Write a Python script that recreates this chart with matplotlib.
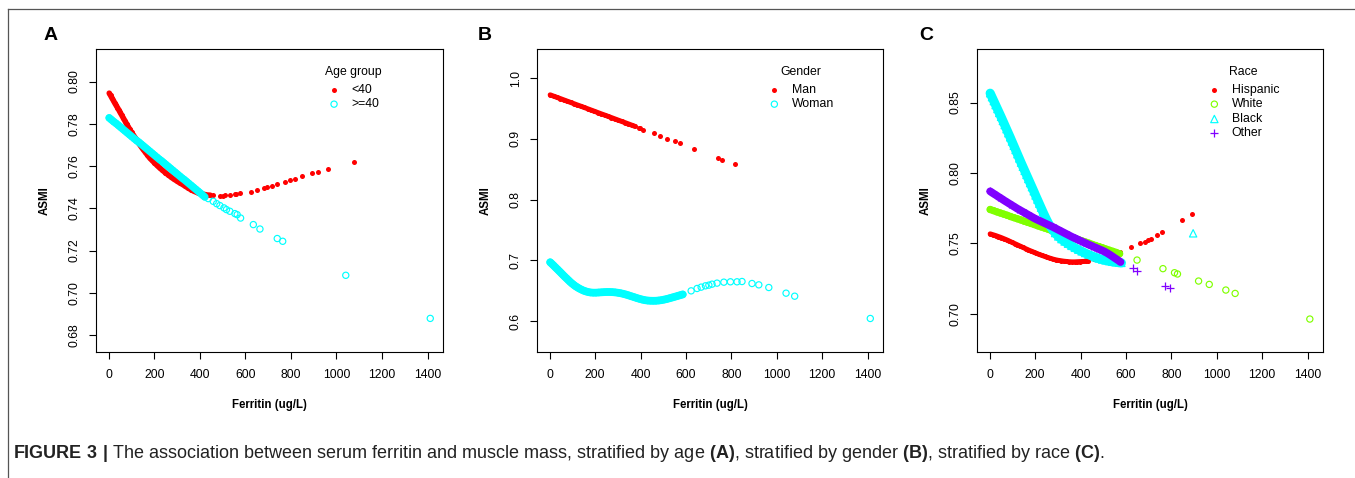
import matplotlib
matplotlib.use("Agg")
import matplotlib.pyplot as plt
from matplotlib.lines import Line2D
from matplotlib.ticker import FormatStrFormatter

plt.rcParams["font.family"] = ["Liberation Sans", "DejaVu Sans"]
plt.rcParams["mathtext.fontset"] = "custom"
plt.rcParams["mathtext.rm"] = "Liberation Sans"
plt.rcParams["mathtext.bf"] = "Liberation Sans:bold"

# ---- panel A: age group (dense run of fitted values, then the sparse tail) ----
lt40_dense_x = [2, 8, 14, 20, 26, 32, 38, 44, 50, 57, 64, 71, 78, 85, 92, 100, 108, 116, 124,
                132, 140, 150, 160, 170, 180, 190, 200, 212, 224, 236, 248, 260, 272, 285, 298,
                311, 324, 337, 350, 363, 376, 390, 404, 418, 432, 446]
lt40_dense_y = [0.7945, 0.7934, 0.7922, 0.7911, 0.7899, 0.7888, 0.7877, 0.7866, 0.7854, 0.7841,
                0.7827, 0.7814, 0.7800, 0.7787, 0.7774, 0.7760, 0.7747, 0.7734, 0.7721, 0.7708,
                0.7695, 0.7680, 0.7666, 0.7652, 0.7638, 0.7627, 0.7616, 0.7603, 0.7591, 0.7580,
                0.7569, 0.7559, 0.7549, 0.7539, 0.7530, 0.7521, 0.7513, 0.7504, 0.7495, 0.7487,
                0.7480, 0.7474, 0.7469, 0.7466, 0.7463, 0.7462]
lt40_sparse_x = [460, 489, 503, 511, 532, 555, 561, 576, 623, 649, 682, 693, 715, 737, 774, 796,
                 818, 847, 894, 921, 965, 1079]
lt40_sparse_y = [0.7461, 0.7460, 0.7460, 0.7461, 0.7463, 0.7466, 0.7468, 0.7471, 0.7479, 0.7487,
                 0.7494, 0.7499, 0.7507, 0.7515, 0.7526, 0.7532, 0.7539, 0.7551, 0.7565, 0.7573,
                 0.7587, 0.7619]
ge40_dense_x = [2, 12, 22, 32, 42, 52, 62, 72, 82, 92, 102, 112, 122, 132, 142, 152, 162, 172,
                182, 192, 202, 212, 222, 232, 242, 252, 262, 272, 282, 292, 302, 312, 322, 332,
                342, 352, 362, 372, 382, 392, 402, 412, 422]
ge40_dense_y = [0.7828, 0.7819, 0.7810, 0.7802, 0.7793, 0.7784, 0.7775, 0.7766, 0.7757, 0.7748,
                0.7739, 0.7730, 0.7721, 0.7713, 0.7704, 0.7695, 0.7686, 0.7677, 0.7668, 0.7659,
                0.7650, 0.7641, 0.7632, 0.7624, 0.7615, 0.7606, 0.7597, 0.7588, 0.7579, 0.7570,
                0.7561, 0.7552, 0.7543, 0.7535, 0.7526, 0.7517, 0.7508, 0.7499, 0.7490, 0.7481,
                0.7472, 0.7463, 0.7454]
ge40_sparse_x = [437, 459, 474, 488, 506, 517, 532, 554, 564, 579, 635, 664, 740, 764, 1041, 1412]
ge40_sparse_y = [0.7446, 0.7433, 0.7422, 0.7413, 0.7402, 0.7394, 0.7386, 0.7375, 0.7370, 0.7354,
                 0.7323, 0.7302, 0.7257, 0.7244, 0.7083, 0.6879]

# ---- panel B: gender ----
man_dense_x = [2, 17, 32, 47, 62, 77, 92, 107, 122, 137, 152, 167, 182, 197, 212, 227, 242, 257,
               272, 287, 302, 317, 332, 347, 362, 374]
man_dense_y = [0.9725, 0.9704, 0.9683, 0.9663, 0.9642, 0.9621, 0.9600, 0.9579, 0.9558, 0.9538,
               0.9517, 0.9496, 0.9475, 0.9454, 0.9433, 0.9412, 0.9392, 0.9371, 0.9350, 0.9329,
               0.9308, 0.9287, 0.9267, 0.9246, 0.9225, 0.9208]
man_sparse_x = [393, 398, 412, 459, 486, 518, 553, 573, 635, 741, 760, 816]
man_sparse_y = [0.9180, 0.9178, 0.9150, 0.9093, 0.9053, 0.9003, 0.8957, 0.8929, 0.8836, 0.8690,
                0.8657, 0.8580]
woman_dense_x = [2, 10, 18, 26, 34, 42, 50, 58, 66, 74, 82, 90, 98, 106, 114, 122, 130, 140, 150,
                 160, 170, 180, 192, 204, 216, 228, 240, 252, 264, 276, 288, 300, 312, 324, 336,
                 348, 360, 372, 384, 396, 408, 420, 432, 444, 456, 468, 480, 492, 504, 516, 528,
                 540, 552, 564, 576, 586]
woman_dense_y = [0.6968, 0.6940, 0.6911, 0.6881, 0.6852, 0.6822, 0.6792, 0.6761, 0.6731, 0.6703,
                 0.6674, 0.6645, 0.6619, 0.6595, 0.6573, 0.6554, 0.6536, 0.6517, 0.6500, 0.6487,
                 0.6477, 0.6470, 0.6467, 0.6467, 0.6470, 0.6473, 0.6476, 0.6478, 0.6478, 0.6476,
                 0.6472, 0.6466, 0.6458, 0.6448, 0.6436, 0.6422, 0.6407, 0.6393, 0.6378, 0.6365,
                 0.6353, 0.6343, 0.6337, 0.6334, 0.6333, 0.6334, 0.6338, 0.6344, 0.6353, 0.6363,
                 0.6375, 0.6388, 0.6401, 0.6414, 0.6427, 0.6438]
woman_sparse_x = [623, 649, 667, 686, 701, 715, 737, 767, 796, 825, 847, 891, 921, 965, 1041,
                  1079, 1412]
woman_sparse_y = [0.6497, 0.6536, 0.6558, 0.6580, 0.6591, 0.6607, 0.6624, 0.6640, 0.6646, 0.6646,
                  0.6651, 0.6618, 0.6596, 0.6552, 0.6459, 0.6409, 0.6042]

# ---- panel C: race ----
hisp_dense_x = [2, 14, 26, 38, 50, 62, 74, 86, 98, 110, 122, 134, 146, 158, 170, 182, 194, 206,
                218, 230, 242, 254, 266, 278, 290, 302, 314, 326, 338, 350, 362, 374, 386, 398,
                410, 422, 434]
hisp_dense_y = [0.7567, 0.7561, 0.7555, 0.7548, 0.7541, 0.7533, 0.7525, 0.7516, 0.7507, 0.7498,
                0.7489, 0.7480, 0.7471, 0.7462, 0.7453, 0.7445, 0.7437, 0.7429, 0.7421, 0.7414,
                0.7407, 0.7400, 0.7394, 0.7388, 0.7383, 0.7379, 0.7376, 0.7373, 0.7371, 0.7369,
                0.7368, 0.7368, 0.7369, 0.7370, 0.7371, 0.7372, 0.7374]
hisp_sparse_x = [460, 495, 517, 539, 573, 622, 663, 685, 696, 712, 737, 759, 849, 893]
hisp_sparse_y = [0.7386, 0.7401, 0.7410, 0.7418, 0.7436, 0.7471, 0.7500, 0.7512, 0.7524, 0.7533,
                 0.7559, 0.7583, 0.7666, 0.7706]
white_dense_x = [2, 17, 32, 47, 62, 77, 92, 107, 122, 137, 152, 167, 182, 197, 212, 227, 242,
                 257, 272, 287, 302, 317, 332, 347, 362, 377, 392, 407, 422, 437, 452, 467, 482,
                 497, 512, 527, 542, 557, 572]
white_dense_y = [0.7740, 0.7732, 0.7723, 0.7715, 0.7707, 0.7699, 0.7690, 0.7682, 0.7674, 0.7666,
                 0.7657, 0.7649, 0.7641, 0.7633, 0.7624, 0.7616, 0.7608, 0.7600, 0.7591, 0.7583,
                 0.7575, 0.7567, 0.7558, 0.7550, 0.7542, 0.7534, 0.7525, 0.7517, 0.7509, 0.7501,
                 0.7492, 0.7484, 0.7476, 0.7468, 0.7459, 0.7451, 0.7443, 0.7435, 0.7426]
white_sparse_x = [649, 763, 814, 827, 920, 967, 1040, 1081, 1410]
white_sparse_y = [0.7381, 0.7320, 0.7291, 0.7282, 0.7232, 0.7208, 0.7168, 0.7144, 0.6962]
black_dense_x = [2, 10, 18, 26, 34, 42, 50, 58, 66, 74, 82, 90, 98, 106, 114, 122, 130, 138, 146,
                 154, 162, 170, 178, 186, 194, 202, 210, 218, 226, 234, 242, 250, 258, 266, 274,
                 288, 302, 316, 330, 345, 360, 375, 390, 405, 420, 435, 450, 465, 480, 495, 510,
                 525, 540, 555, 570, 580]
black_dense_y = [0.8566, 0.8538, 0.8510, 0.8482, 0.8454, 0.8426, 0.8398, 0.8369, 0.8340, 0.8311,
                 0.8282, 0.8253, 0.8223, 0.8193, 0.8163, 0.8133, 0.8103, 0.8073, 0.8044, 0.8015,
                 0.7986, 0.7957, 0.7928, 0.7899, 0.7870, 0.7840, 0.7811, 0.7782, 0.7753, 0.7724,
                 0.7696, 0.7669, 0.7644, 0.7622, 0.7603, 0.7573, 0.7549, 0.7530, 0.7513, 0.7497,
                 0.7482, 0.7468, 0.7455, 0.7443, 0.7431, 0.7420, 0.7410, 0.7401, 0.7392, 0.7385,
                 0.7379, 0.7374, 0.7369, 0.7366, 0.7363, 0.7361]
black_sparse_x = [896]
black_sparse_y = [0.7571]
other_dense_x = [2, 14, 26, 38, 50, 62, 74, 86, 98, 110, 122, 134, 146, 158, 170, 182, 194, 206,
                 218, 230, 242, 254, 266, 278, 290, 302, 314, 326, 338, 350, 362, 374, 386, 398,
                 410, 422, 434, 446, 458, 470, 482, 494, 506, 518, 530, 542, 554, 566, 576]
other_dense_y = [0.7869, 0.7856, 0.7844, 0.7831, 0.7819, 0.7806, 0.7794, 0.7782, 0.7770, 0.7758,
                 0.7746, 0.7735, 0.7724, 0.7713, 0.7702, 0.7691, 0.7680, 0.7670, 0.7661, 0.7652,
                 0.7643, 0.7634, 0.7625, 0.7616, 0.7606, 0.7596, 0.7586, 0.7576, 0.7566, 0.7556,
                 0.7546, 0.7537, 0.7528, 0.7519, 0.7510, 0.7501, 0.7492, 0.7484, 0.7475, 0.7467,
                 0.7458, 0.7450, 0.7441, 0.7430, 0.7418, 0.7405, 0.7392, 0.7379, 0.7367]
other_sparse_x = [631, 649, 773, 795]
other_sparse_y = [0.7327, 0.7305, 0.7197, 0.7182]

x_ticks = [0, 200, 400, 600, 800, 1000, 1200, 1400]

RED, CYAN, GREEN, PURPLE = "#FF0000", "#00FFFF", "#80FF00", "#8000FF"
FS = 8.8


def pts(ax, x, y, color, kind, **kw):
    if kind == "dot":
        ax.scatter(x, y, marker="o", s=13, color=color, linewidths=0, **kw)
    elif kind == "circle":
        ax.scatter(x, y, marker="o", s=20, facecolors="none", edgecolors=color,
                   linewidths=0.85, **kw)
    elif kind == "tri":
        ax.scatter(x, y, marker="^", s=28, facecolors="none", edgecolors=color,
                   linewidths=0.85, **kw)
    else:
        ax.scatter(x, y, marker="+", s=36, color=color, linewidths=0.9, **kw)


def series(ax, dx, dy, sx, sy, color, kind, band):
    # the dense run overplots into a solid band in the original
    ax.plot(dx, dy, color=color, lw=band, solid_capstyle="round", solid_joinstyle="round")
    pts(ax, dx, dy, color, kind)
    pts(ax, sx, sy, color, kind)


def legend(ax, title, title_x, entries):
    rows = [0.865, 0.818, 0.769, 0.722]
    ax.text(title_x, 0.924, title, transform=ax.transAxes, ha="center", va="center", fontsize=FS)
    for (label, color, kind), ry in zip(entries, rows):
        pts(ax, [0.686], [ry], color, kind, transform=ax.transAxes, clip_on=False)
        ax.text(0.736, ry, label, transform=ax.transAxes, ha="left", va="center", fontsize=FS)


def setup(ax, ylim, yticks, yfmt):
    ax.set_xlim(-56, 1468)
    ax.set_ylim(*ylim)
    ax.set_xticks(x_ticks)
    ax.set_yticks(yticks)
    ax.yaxis.set_major_formatter(FormatStrFormatter(yfmt))
    for sp in ax.spines.values():
        sp.set_linewidth(0.8)
    ax.tick_params(axis="both", length=5, width=0.8, labelsize=FS)
    ax.tick_params(axis="x", pad=7.5)
    ax.tick_params(axis="y", pad=6)
    for lbl in ax.get_yticklabels():
        lbl.set_rotation(90)
        lbl.set_va("center")
    ax.set_xlabel("Ferritin (ug/L)", fontsize=8.3, fontweight="bold")
    ax.set_ylabel("ASMI", fontsize=8.3, fontweight="bold")
    ax.xaxis.set_label_coords(0.5, -0.155)
    ax.yaxis.set_label_coords(-0.13, 0.5)


fig = plt.figure(figsize=(13.55, 4.78), dpi=100)
W, H = 1355, 478
ax_a = fig.add_axes([96 / W, 1 - 352 / H, 347 / W, 303 / H])
ax_b = fig.add_axes([537 / W, 1 - 352 / H, 346 / W, 303 / H])
ax_c = fig.add_axes([977 / W, 1 - 352 / H, 346 / W, 303 / H])

# A
series(ax_a, lt40_dense_x, lt40_dense_y, lt40_sparse_x, lt40_sparse_y, RED, "dot", 4.0)
series(ax_a, ge40_dense_x, ge40_dense_y, ge40_sparse_x, ge40_sparse_y, CYAN, "circle", 5.4)
setup(ax_a, (0.672, 0.8154), [0.68, 0.70, 0.72, 0.74, 0.76, 0.78, 0.80], "%.2f")
legend(ax_a, "Age group", 0.742, [("<40", RED, "dot"), (">=40", CYAN, "circle")])

# B
series(ax_b, man_dense_x, man_dense_y, man_sparse_x, man_sparse_y, RED, "dot", 3.6)
series(ax_b, woman_dense_x, woman_dense_y, woman_sparse_x, woman_sparse_y, CYAN, "circle", 5.6)
setup(ax_b, (0.549, 1.048), [0.6, 0.7, 0.8, 0.9, 1.0], "%.1f")
legend(ax_b, "Gender", 0.762, [("Man", RED, "dot"), ("Woman", CYAN, "circle")])

# C
series(ax_c, hisp_dense_x, hisp_dense_y, hisp_sparse_x, hisp_sparse_y, RED, "dot", 3.6)
series(ax_c, white_dense_x, white_dense_y, white_sparse_x, white_sparse_y, GREEN, "circle", 5.0)
series(ax_c, black_dense_x, black_dense_y, black_sparse_x, black_sparse_y, CYAN, "tri", 6.6)
series(ax_c, other_dense_x, other_dense_y, other_sparse_x, other_sparse_y, PURPLE, "plus", 5.6)
setup(ax_c, (0.6728, 0.888), [0.70, 0.75, 0.80, 0.85], "%.2f")
legend(ax_c, "Race", 0.770, [("Hispanic", RED, "dot"), ("White", GREEN, "circle"),
                             ("Black", CYAN, "tri"), ("Other", PURPLE, "plus")])

# panel letters
for letter, px in (("A", 51), ("B", 485), ("C", 926)):
    fig.text(px / W, 1 - 36 / H, letter, ha="center", va="center", fontsize=14, fontweight="bold")

# frame lines (top and left)
fig.add_artist(Line2D([8 / W, 1], [1 - 8.5 / H, 1 - 8.5 / H], color="#555555", lw=0.9))
fig.add_artist(Line2D([8 / W, 8 / W], [0, 1 - 8.5 / H], color="#555555", lw=0.9))

caption = (r"$\mathbf{FIGURE\ 3\ |}$ The association between serum ferritin and muscle mass, "
           r"stratified by age $\mathbf{(A)}$, stratified by gender $\mathbf{(B)}$, "
           r"stratified by race $\mathbf{(C)}$.")
fig.text(13 / W, 1 - 453 / H, caption, ha="left", va="center", fontsize=13, color="#222222")

fig.savefig("out.png", dpi=100)
